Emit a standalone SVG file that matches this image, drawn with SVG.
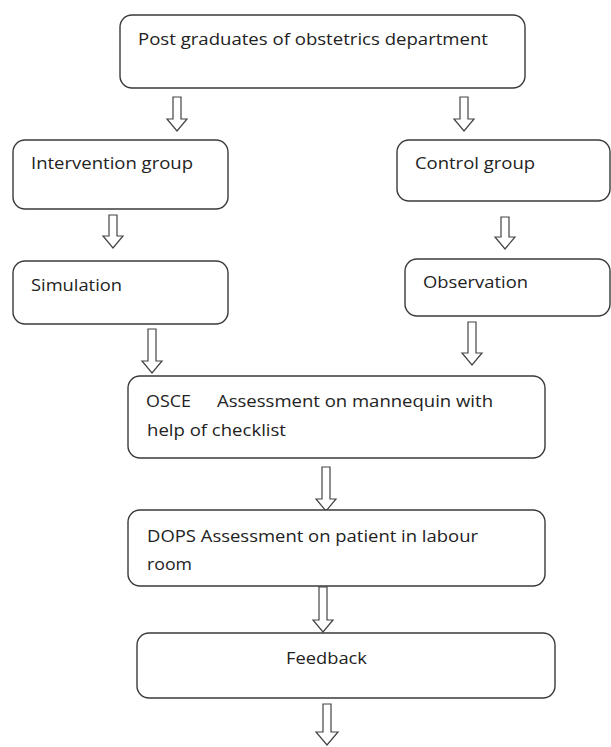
<svg xmlns="http://www.w3.org/2000/svg" width="611" height="747" viewBox="0 0 611 747">
<style>
.box{fill:#fff;stroke:#3a3a3a;stroke-width:1.4}
.arr{fill:#fff;stroke:#444;stroke-width:1.2;stroke-linejoin:miter}
text{font-family:"Open Sans","Noto Sans","Liberation Sans",sans-serif;font-size:17px;fill:#222}
</style>
<defs>
<path id="a" class="arr" d="M-4,0 H4 V-12 H10 L0,0 L-10,-12 H-4 Z"/>
</defs>
<rect width="611" height="747" fill="#fff"/>
<g id="connectors">
<path class="arr" d="M173,97 H181 V119 H187 L177,131 L167,119 H173 Z"/>
<path class="arr" d="M460,97 H468 V119 H474 L464,131 L454,119 H460 Z"/>
<path class="arr" d="M109,215 H117 V236 H123 L113,248 L103,236 H109 Z"/>
<path class="arr" d="M501,217 H509 V237 H515 L505,249 L495,237 H501 Z"/>
<path class="arr" d="M148,329 H156 V361 H162 L152,373 L142,361 H148 Z"/>
<path class="arr" d="M468,322 H476 V353 H482 L472,365 L462,353 H468 Z"/>
<path class="arr" d="M322,467 H330 V499 H336 L326,511 L316,499 H322 Z"/>
<path class="arr" d="M319,587 H327 V620 H333 L323,632 L313,620 H319 Z"/>
<path class="arr" d="M323,704 H331 V732 H338 L327,745 L316,732 H323 Z"/>
</g>
<g id="n1">
<rect class="box" x="120" y="15" width="405" height="73" rx="12"/>
<text x="138" y="45" textLength="350" lengthAdjust="spacingAndGlyphs">Post graduates of obstetrics department</text>
</g>
<g id="n2">
<rect class="box" x="13" y="140" width="215" height="69" rx="12"/>
<text x="31" y="169" textLength="162" lengthAdjust="spacingAndGlyphs">Intervention group</text>
</g>
<g id="n3">
<rect class="box" x="397" y="140" width="213" height="61" rx="12"/>
<text x="415" y="169" textLength="120" lengthAdjust="spacingAndGlyphs">Control group</text>
</g>
<g id="n4">
<rect class="box" x="13" y="261" width="215" height="63" rx="12"/>
<text x="31" y="291" textLength="91" lengthAdjust="spacingAndGlyphs">Simulation</text>
</g>
<g id="n5">
<rect class="box" x="405" y="259" width="205" height="57" rx="12"/>
<text x="423" y="288" textLength="105" lengthAdjust="spacingAndGlyphs">Observation</text>
</g>
<g id="n6">
<rect class="box" x="128" y="376" width="417" height="82" rx="12"/>
<text x="146" y="407" textLength="45" lengthAdjust="spacingAndGlyphs">OSCE</text>
<text x="217" y="407" textLength="276" lengthAdjust="spacingAndGlyphs">Assessment on mannequin with</text>
<text x="147" y="436" textLength="139" lengthAdjust="spacingAndGlyphs">help of checklist</text>
</g>
<g id="n7">
<rect class="box" x="128" y="510" width="417" height="76" rx="12"/>
<text x="147" y="542" textLength="331" lengthAdjust="spacingAndGlyphs">DOPS Assessment on patient in labour</text>
<text x="147" y="570" textLength="45" lengthAdjust="spacingAndGlyphs">room</text>
</g>
<g id="n8">
<rect class="box" x="137" y="633" width="418" height="65" rx="12"/>
<text x="286" y="664" textLength="81" lengthAdjust="spacingAndGlyphs">Feedback</text>
</g>
</svg>
